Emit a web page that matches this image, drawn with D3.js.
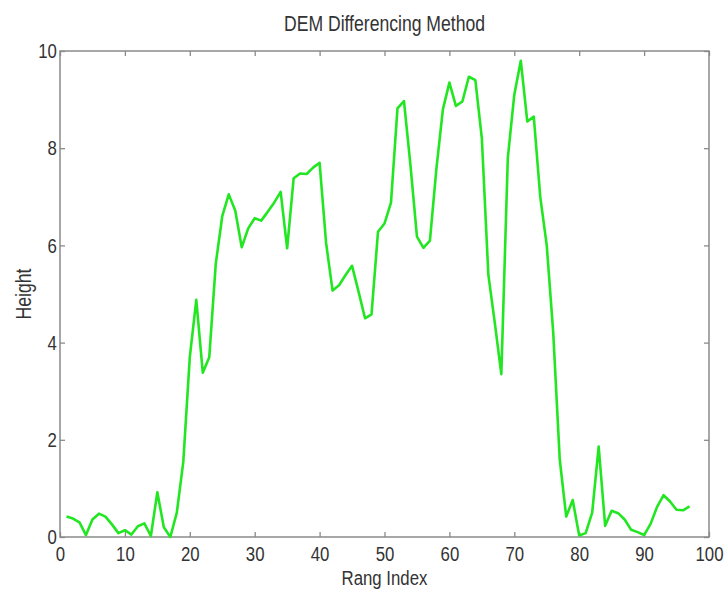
<!DOCTYPE html>
<html>
<head>
<meta charset="utf-8">
<script src="https://cdn.jsdelivr.net/npm/d3@7"></script>
<style>
body { margin: 0; background: #fff; }
text { font-family: "Liberation Sans", Arial, sans-serif; fill: #333; }
</style>
</head>
<body>
<div id="chart"></div>
<script>
// data
var rangIndex = [1,2,3,4,5,6,7,8,9,10,11,12,13,14,15,16,17,18,19,20,
	21,22,23,24,25,26,27,28,29,30,31,32,33,34,35,36,37,38,39,40,
	41,42,43,44,45,46,47,48,49,50,51,52,53,54,55,56,57,58,59,60,
	61,62,63,64,65,66,67,68,69,70,71,72,73,74,75,76,77,78,79,80,
	81,82,83,84,85,86,87,88,89,90,91,92,93,94,95,96,97];
var height = [0.42,0.38,0.30,0.04,0.36,0.48,0.42,0.26,0.08,0.14,
	0.05,0.22,0.28,0.02,0.92,0.20,0.00,0.50,1.55,3.70,
	4.88,3.38,3.70,5.62,6.60,7.05,6.72,5.96,6.35,6.56,
	6.51,6.69,6.88,7.10,5.94,7.38,7.48,7.47,7.60,7.70,
	6.05,5.07,5.18,5.39,5.58,5.05,4.50,4.58,6.28,6.45,
	6.88,8.82,8.97,7.65,6.18,5.95,6.10,7.58,8.80,9.35,
	8.87,8.96,9.47,9.40,8.20,5.40,4.40,3.35,7.80,9.10,
	9.80,8.55,8.65,7.00,6.00,4.20,1.60,0.42,0.76,0.03,
	0.08,0.50,1.86,0.23,0.54,0.49,0.36,0.15,0.10,0.04,
	0.27,0.62,0.86,0.73,0.56,0.55,0.63];
var xTicks = [0,10,20,30,40,50,60,70,80,90,100];
var yTicks = [0,2,4,6,8,10];

var W = 726, H = 592;
var mLeft = 60, mRight = 709, mTop = 51, mBottom = 537;
var narrow = 'scale(0.8,1)'; // the picture's text is squeezed sideways

var svg = d3.select('#chart').append('svg')
	.attr('width', W).attr('height', H);

var x = d3.scaleLinear().domain([0, 100]).range([mLeft, mRight]);
var y = d3.scaleLinear().domain([0, 10]).range([mBottom, mTop]);

var axisColor = '#8a8a8a';

function styleAxis(g, hideText) {
	g.select('.domain').remove();
	g.selectAll('.tick line').attr('stroke', axisColor).attr('stroke-width', 1.3);
	g.selectAll('.tick text')
		.style('font-size', '21px')
		.attr('fill', '#333')
		.attr('transform', narrow);
	if (hideText) g.selectAll('.tick text').remove();
}

// bottom axis, ticks inward
svg.append('g')
	.attr('transform', 'translate(0,' + mBottom + ')')
	.call(d3.axisBottom(x).tickValues(xTicks).tickSizeInner(-5).tickSizeOuter(0).tickPadding(9))
	.call(function(g) { styleAxis(g, false); });

// top axis
svg.append('g')
	.attr('transform', 'translate(0,' + mTop + ')')
	.call(d3.axisTop(x).tickValues(xTicks).tickSizeInner(-5).tickSizeOuter(0))
	.call(function(g) { styleAxis(g, true); });

// left axis
svg.append('g')
	.attr('transform', 'translate(' + mLeft + ',0)')
	.call(d3.axisLeft(y).tickValues(yTicks).tickSizeInner(-5).tickSizeOuter(0).tickPadding(4))
	.call(function(g) { styleAxis(g, false); });

// right axis
svg.append('g')
	.attr('transform', 'translate(' + mRight + ',0)')
	.call(d3.axisRight(y).tickValues(yTicks).tickSizeInner(-5).tickSizeOuter(0))
	.call(function(g) { styleAxis(g, true); });

// box
svg.append('rect')
	.attr('x', mLeft).attr('y', mTop)
	.attr('width', mRight - mLeft).attr('height', mBottom - mTop)
	.attr('fill', 'none')
	.attr('stroke', axisColor)
	.attr('stroke-width', 1.5);

// the line
var line = d3.line()
	.x(function(d, i) { return x(rangIndex[i]); })
	.y(function(d) { return y(d); });

svg.append('path')
	.datum(height)
	.attr('d', line)
	.attr('fill', 'none')
	.attr('stroke', '#22e622')
	.attr('stroke-width', 2.6)
	.attr('stroke-linejoin', 'round');

// labels
svg.append('text')
	.attr('transform', 'translate(' + (mLeft + mRight) / 2 + ',31) ' + narrow)
	.attr('text-anchor', 'middle')
	.style('font-size', '22px')
	.text('DEM Differencing Method');

svg.append('text')
	.attr('transform', 'translate(' + (mLeft + mRight) / 2 + ',585) ' + narrow)
	.attr('text-anchor', 'middle')
	.style('font-size', '21px')
	.text('Rang Index');

svg.append('text')
	.attr('transform', 'translate(31,294) rotate(-90) ' + narrow)
	.attr('text-anchor', 'middle')
	.style('font-size', '22px')
	.text('Height');
</script>
</body>
</html>
